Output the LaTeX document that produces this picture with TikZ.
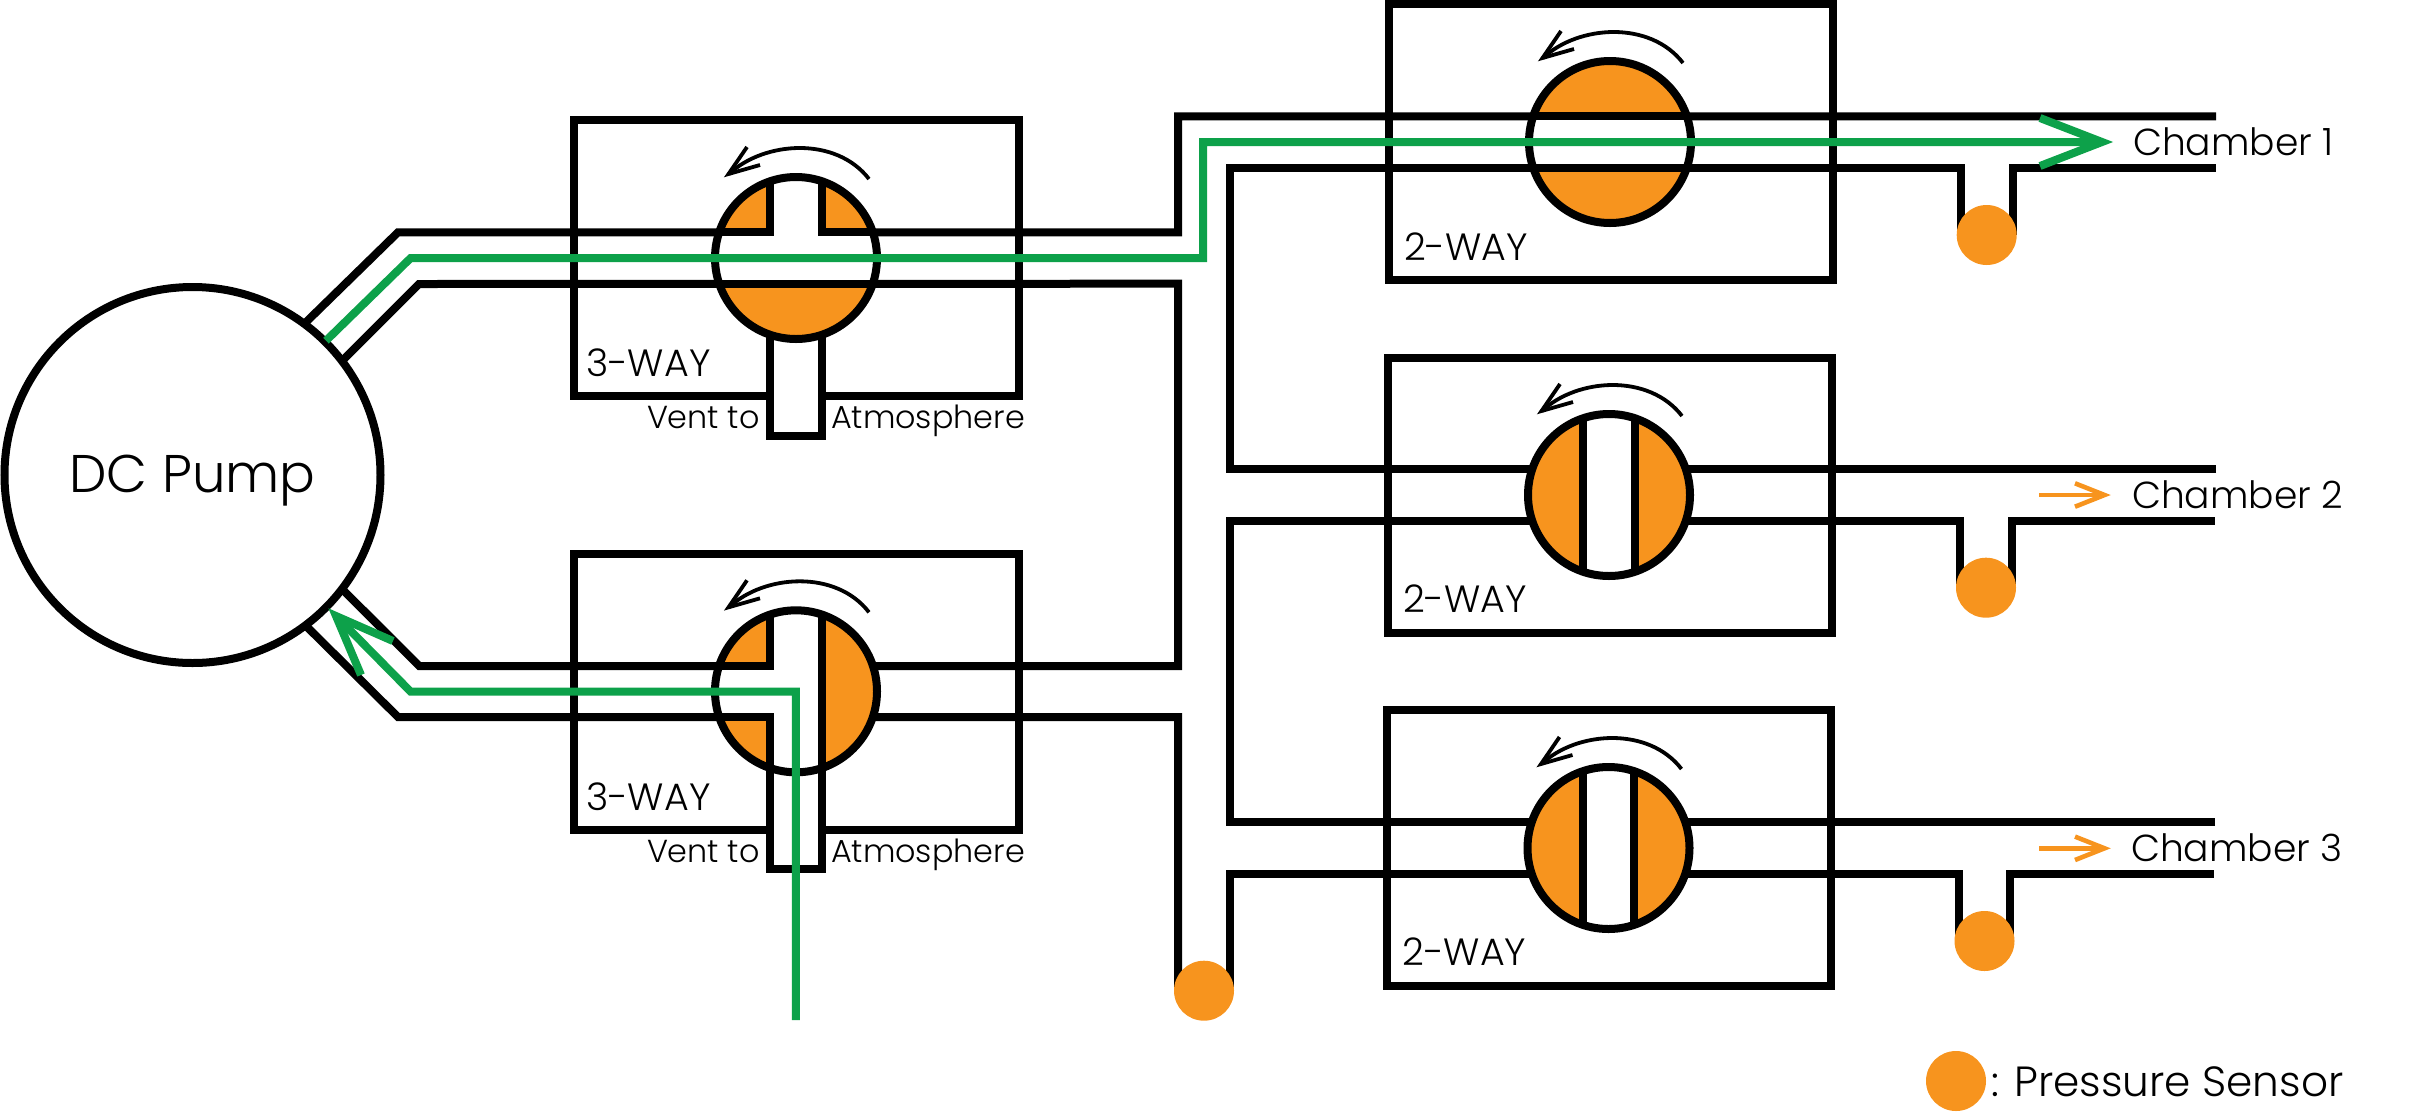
\documentclass[tikz,border=0pt]{standalone}
\usepackage{fontspec}
\setmainfont{Poppins Light}
\definecolor{vorange}{HTML}{F7941E}
\definecolor{vgreen}{HTML}{0DA14A}
\tikzset{
  pipe/.style={line width=8pt,black,miter limit=10},
  flow/.style={line width=8pt,vgreen,miter limit=10},
  hint/.style={line width=4.6pt,vorange,miter limit=10},
  turn/.style={line width=3.8pt,black,miter limit=10},
  txt/.style={anchor=base west,inner sep=0pt,outer sep=0pt,black},
  waylabel/.style={txt,font=\fontsize{38}{38}\selectfont},
  ventlabel/.style={txt,font=\fontsize{31.8}{32}\selectfont},
  chamberlabel/.style={txt,font=\fontsize{37.6}{38}\selectfont},
  sensor/.style={fill=vorange}
}
\newcommand{\rotarrow}{%
  \draw[turn] (73,-79) .. controls (40,-122) and (-32,-117) .. (-67,-84);
  \draw[turn] (-49,-111) -- (-67.5,-84) -- (-36,-93);
}
\newcommand{\valve}[3]{%
  \begin{scope}[shift={(#1,#2)}]
    \fill[white] (0,0) circle[radius=81pt];
    \begin{scope}
      \clip (0,0) circle[radius=81pt];
      #3
    \end{scope}
    \draw[pipe] (0,0) circle[radius=81pt];
    \rotarrow
  \end{scope}
}
\newcommand{\stem}[2]{%
  \fill[white] (#1-25.7,#2) rectangle (#1+25.7,#2+178);
  \draw[pipe] (#1-25.7,#2) -- (#1-25.7,#2+178) -- (#1+25.7,#2+178) -- (#1+25.7,#2);
}
\begin{document}
\begin{tikzpicture}[x=1pt,y=-1pt]
\useasboundingbox (0,0) rectangle (2434,1112);
% valve housings
\draw[pipe] (573.5,120) rectangle (1018.5,396);
\draw[pipe] (573.5,554) rectangle (1018.5,830);
\draw[pipe] (1388.5,4) rectangle (1833,280);
\draw[pipe] (1388,357.5) rectangle (1832,633);
\draw[pipe] (1386.5,710) rectangle (1830.5,986);
% tubing
\draw[pipe] (300,328) -- (398,232.3) -- (1178,232.3) -- (1178,116.3) -- (2216,116.3);
\draw[pipe] (335,368) -- (419,284) -- (1178,283.7) -- (1178,666) -- (419.3,666) -- (335,582);
\draw[pipe] (298,618) -- (398,717) -- (1178,717) -- (1178,990);
\draw[pipe] (2216,469.3) -- (1229.7,469.3) -- (1229.7,167.7) -- (1961,167.7) -- (1961,235);
\draw[pipe] (2012.7,235) -- (2012.7,167.7) -- (2216,167.7);
\draw[pipe] (2215,822.3) -- (1229.7,822.3) -- (1229.7,520.7) -- (1960,520.7) -- (1960,588);
\draw[pipe] (2012,588) -- (2012,520.7) -- (2215,520.7);
\draw[pipe] (1229.7,990) -- (1229.7,873.7) -- (1958.7,873.7) -- (1958.7,941);
\draw[pipe] (2010.3,941) -- (2010.3,873.7) -- (2214,873.7);
% vents
\stem{796}{258}
\stem{796}{691.3}
% pump
\node[circle,draw,fill=white,line width=8pt,minimum size=376pt,inner sep=0pt,
      text height=35pt,text depth=0pt,font=\fontsize{53}{53}\selectfont] (pump) at (192.5,475) {DC Pump};
% valves
\valve{796}{258}{
  \fill[vorange] (-100,-100) rectangle (-25.7,-25.7);
  \fill[vorange] (25.7,-100) rectangle (100,-25.7);
  \fill[vorange] (-100,25.7) rectangle (100,100);
  \draw[pipe] (-100,-25.7) -- (-25.7,-25.7) -- (-25.7,-100);
  \draw[pipe] (25.7,-100) -- (25.7,-25.7) -- (100,-25.7);
  \draw[pipe] (-100,25.7) -- (100,25.7);
}
\valve{796}{691.3}{
  \fill[vorange] (-100,-100) rectangle (-25.7,-25.7);
  \fill[vorange] (-100,25.7) rectangle (-25.7,100);
  \fill[vorange] (25.7,-100) rectangle (100,100);
  \draw[pipe] (-100,-25.7) -- (-25.7,-25.7) -- (-25.7,-100);
  \draw[pipe] (-100,25.7) -- (-25.7,25.7) -- (-25.7,100);
  \draw[pipe] (25.7,-100) -- (25.7,100);
}
\valve{1610}{142}{
  \fill[vorange] (-100,-100) rectangle (100,-25.7);
  \fill[vorange] (-100,25.7) rectangle (100,100);
  \draw[pipe] (-100,-25.7) -- (100,-25.7);
  \draw[pipe] (-100,25.7) -- (100,25.7);
}
\valve{1609}{495}{
  \fill[vorange] (-100,-100) rectangle (-25.7,100);
  \fill[vorange] (25.7,-100) rectangle (100,100);
  \draw[pipe] (-25.7,-100) -- (-25.7,100);
  \draw[pipe] (25.7,-100) -- (25.7,100);
}
\valve{1608.5}{848}{
  \fill[vorange] (-100,-100) rectangle (-25.7,100);
  \fill[vorange] (25.7,-100) rectangle (100,100);
  \draw[pipe] (-25.7,-100) -- (-25.7,100);
  \draw[pipe] (25.7,-100) -- (25.7,100);
}
% sensors
\fill[sensor] (1986.7,235) circle[radius=30pt];
\fill[sensor] (1986,587.7) circle[radius=30pt];
\fill[sensor] (1984.5,941) circle[radius=30pt];
\fill[sensor] (1204,990.7) circle[radius=30pt];
\fill[sensor] (1956,1081) circle[radius=30pt];
% flow paths
\draw[flow] (326,340.7) -- (410.7,258) -- (1203,258) -- (1203,142) -- (2100,142);
\draw[flow] (2040,118) -- (2102,142) -- (2040,166);
\draw[flow] (795.8,1020) -- (795.8,691.7) -- (410.7,691.7) -- (336,616);
\draw[flow] (393,641) -- (336,616) -- (361,675);
% chamber hints
\draw[hint] (2039,495) -- (2103,495);
\draw[hint] (2075,483.3) -- (2104.5,495) -- (2075,506.7);
\draw[hint] (2039,848.3) -- (2103,848.3);
\draw[hint] (2075,836.6) -- (2104.5,848.3) -- (2075,860);
% labels
\node[waylabel] (w1) at (586,376.7) {3-WAY};
\node[waylabel] (w2) at (586,810.7) {3-WAY};
\node[waylabel] (w3) at (1404,260) {2-WAY};
\node[waylabel] (w4) at (1403,612.3) {2-WAY};
\node[waylabel] (w5) at (1402.3,965.7) {2-WAY};
\node[ventlabel] (v1) at (647,428) {Vent to};
\node[ventlabel] (a1) at (831,428) {Atmosphere};
\node[ventlabel] (v2) at (647,862) {Vent to};
\node[ventlabel] (a2) at (831,862) {Atmosphere};
\node[chamberlabel] (c1) at (2133,155) {Chamber 1};
\node[chamberlabel] (c2) at (2132,508) {Chamber 2};
\node[chamberlabel] (c3) at (2131,861.7) {Chamber 3};
\node[txt,font=\fontsize{42.2}{43}\selectfont] (ps) at (1991,1096.7) {: Pressure Sensor};
\end{tikzpicture}
\end{document}
